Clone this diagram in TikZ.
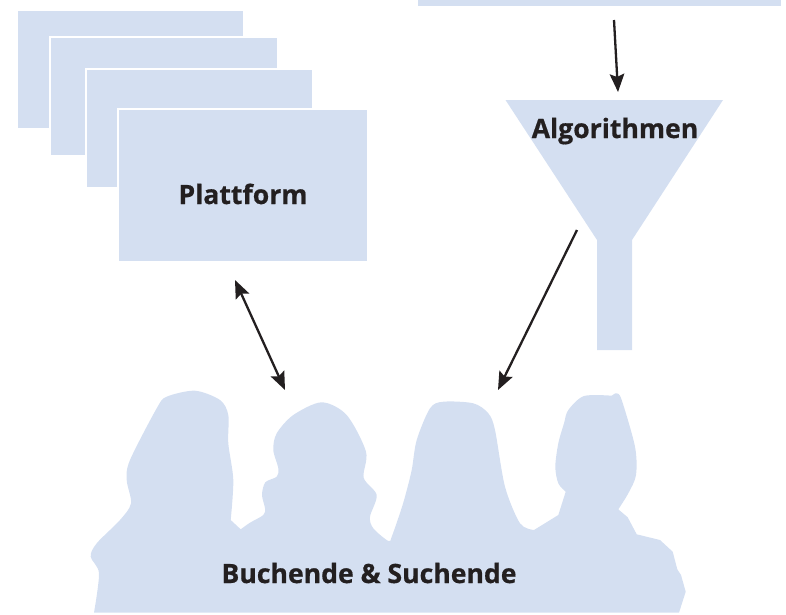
\documentclass[tikz,border=0pt]{standalone}
\usepackage{fontspec}
\setmainfont{Open Sans}[BoldFeatures={FakeBold=0.6}]
\usetikzlibrary{arrows.meta}
\definecolor{shapeblue}{HTML}{D4DFF1}
\definecolor{inkdark}{HTML}{231F20}
\tikzset{
  pagebox/.style={draw=white,line width=2pt,fill=shapeblue,inner sep=0pt,outer sep=0pt},
  labeltext/.style={text=inkdark,font=\fontsize{26.6}{30}\selectfont\bfseries,anchor=base,inner sep=0pt},
  connector/.style={draw=inkdark,line width=2.3pt,-{Stealth[length=18pt,width=14.5pt,inset=3pt]}},
  dconnector/.style={draw=inkdark,line width=2.3pt,{Stealth[length=18pt,width=14.5pt,inset=3pt]}-{Stealth[length=18pt,width=14.5pt,inset=3pt]}},
  smoothline/.style={smooth,tension=.5}
}
\begin{document}
\begin{tikzpicture}[x=1pt,y=-1pt]
\useasboundingbox (0,0) rectangle (786,614);
% stacked pages
\node[pagebox,minimum width=227pt,minimum height=119pt] (p1) at (130.5,69.5) {};
\node[pagebox,minimum width=228pt,minimum height=119pt] (p2) at (164,96.5) {};
\node[pagebox,minimum width=227.5pt,minimum height=119pt] (p3) at (199.25,128) {};
\node[pagebox,minimum width=250pt,minimum height=153.5pt] (p4) at (243,185.25) {};
\node[labeltext] (plattform) at (243,204) {Plattform};
% top bar
\fill[shapeblue] (418,0) rectangle (781,5.5);
% funnel
\fill[shapeblue] (505.5,100) -- (723,100) -- (632,240) -- (632,350) -- (597,350) -- (597,240) -- cycle;
\node[labeltext] (algo) at (615,138) {Algorithmen};
% silhouette
\fill[shapeblue] (94,612.7)
  -- plot[smoothline] coordinates {(94,612.7) (99,573.3) (90.7,556.7) (96.7,543.3) (120,520) (131,503.3) (126.7,480) (130,460) (156.7,408.3) (166.7,396.7) (195,390.7) (220,400) (228.3,415) (228.3,443.3) (233.3,480) (230.7,520)}
  -- (240.7,529.3)
  -- plot[smoothline] coordinates {(240.7,529.3) (250,522.7) (263.3,515) (265,508.3) (262,495) (265.3,482.3) (276.7,476.7) (278.3,468.3) (273.3,450) (276.7,433.3) (293.3,415) (321.7,402.3) (346.7,415) (366,451.7) (363.7,477.7) (376.7,495) (370,516.7) (373.3,528.3) (388.3,541) (391.7,536.7) (400,513) (405,496.7) (411.7,470) (416.7,440) (430,408.3) (443.3,401.7) (473.3,403.3) (488.3,413.3) (495,430) (505,486.7) (520,523.3) (534,530)}
  -- (558.3,515) -- (565.7,491.7)
  -- plot[smoothline] coordinates {(565.7,491.7) (558.3,483.3) (555.3,466.7) (558.3,443.3) (564,423.3) (568.3,410) (584,396) (611.7,395.7)}
  -- plot[smoothline] coordinates {(611.7,395.7) (616.7,393.3) (621.7,400) (635,446.7) (636,475) (628.3,493.3) (618.3,509.3)}
  -- (627.7,517.3) -- (636.7,534.3) -- (660,540) -- (672.7,551.7) -- (677.3,569.3) -- (681,575) -- (685.7,591.7) -- (679,612.7) -- cycle;
\node[labeltext] (buchende) at (369,583) {Buchende \& Suchende};
% connector ends
\coordinate (a1) at (614,20);
\coordinate (a2) at (618,92);
\coordinate (b1) at (577,230);
\coordinate (b2) at (498,390);
\coordinate (c1) at (235,280);
\coordinate (c2) at (285,390);
\draw[connector] (a1) -- (a2);
\draw[connector] (b1) -- (b2);
\draw[dconnector] (c1) -- (c2);
\end{tikzpicture}
\end{document}
